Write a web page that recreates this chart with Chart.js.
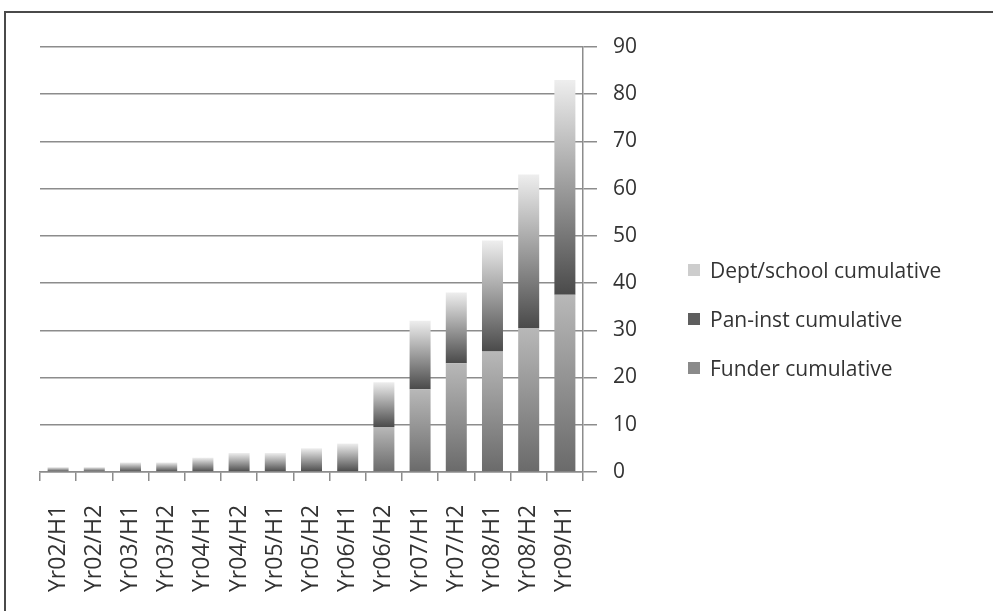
<!DOCTYPE html>
<html>
<head>
<meta charset="utf-8">
<script src="https://cdn.jsdelivr.net/npm/chart.js@4.4.0/dist/chart.umd.min.js"></script>
<style>
  html, body { margin: 0; padding: 0; background: #fff; overflow: hidden; }
  #frame {
    position: absolute; left: 4px; top: 11px; width: 1000px; height: 700px;
    border-left: 2px solid #4a4a4a; border-top: 2px solid #4a4a4a;
  }
  #wrap { position: absolute; left: 0; top: 0; width: 993px; height: 616px; }
  #legend {
    position: absolute; left: 688px; top: 254px; margin: 0; padding: 0; list-style: none;
    font-family: 'Open Sans', 'DejaVu Sans', sans-serif; font-size: 21px; color: #333;
  }
  #legend li { display: flex; align-items: center; height: 32px; margin-bottom: 17px; white-space: nowrap; }
  #legend span.box { display: inline-block; width: 12px; height: 12px; margin-right: 10px; }
</style>
</head>
<body>
<div id="frame"></div>
<div id="wrap"><canvas id="chart"></canvas></div>
<ul id="legend"></ul>
<script>
// ================= DATA =================
const categories = ["Yr02/H1", "Yr02/H2", "Yr03/H1", "Yr03/H2", "Yr04/H1", "Yr04/H2", "Yr05/H1", "Yr05/H2",
    "Yr06/H1", "Yr06/H2", "Yr07/H1", "Yr07/H2", "Yr08/H1", "Yr08/H2", "Yr09/H1"];
const funderValues = [0, 0, 0, 0, 0, 0, 0, 0, 0, 9.5, 17.5, 23, 25.5, 30.5, 37.5];
const panInstValues = [1, 1, 2, 2, 3, 4, 4, 5, 6, 9.5, 14.5, 15, 23.5, 32.5, 45.5];
const deptSchoolValues = [0, 0, 0, 0, 0, 0, 0, 0, 0, 0, 0, 0, 0, 0, 0];
const yTicks = [0, 10, 20, 30, 40, 50, 60, 70, 80, 90];

const stackOrder = [funderValues, panInstValues, deptSchoolValues];
const legendColors = ["#8a8a8a", "#5e5e5e", "#cdcdcd"];

// gradient for one stacked segment, dark at the bottom, light at the top
function segmentFill(dsIndex, bottomColor, topColor) {
    return function (ctx) {
        if (ctx.type !== "data") return legendColors[dsIndex];
        const chart = ctx.chart;
        const y = chart.scales.y;
        if (!y || !chart.chartArea) return bottomColor;
        let base = 0;
        for (let k = 0; k < dsIndex; k++) base += stackOrder[k][ctx.dataIndex];
        const top = base + stackOrder[dsIndex][ctx.dataIndex];
        const yBot = y.getPixelForValue(base);
        const yTop = y.getPixelForValue(top);
        if (!isFinite(yBot) || !isFinite(yTop) || yBot === yTop) return bottomColor;
        const g = chart.ctx.createLinearGradient(0, yBot, 0, yTop);
        g.addColorStop(0, bottomColor);
        g.addColorStop(1, topColor);
        return g;
    };
}

// ================= HTML LEGEND =================
// the canvas legend gets squeezed next to a right-side axis, so build it in the page
const htmlLegend = {
    id: "htmlLegend",
    afterUpdate(chart) {
        const list = document.getElementById("legend");
        list.innerHTML = "";
        const items = chart.options.plugins.legend.labels.generateLabels(chart).reverse();
        items.forEach(item => {
            const li = document.createElement("li");
            const box = document.createElement("span");
            box.className = "box";
            box.style.background = legendColors[item.datasetIndex];
            li.appendChild(box);
            li.appendChild(document.createTextNode(item.text));
            list.appendChild(li);
        });
    }
};

const font = "'Open Sans', 'DejaVu Sans', sans-serif";
const textColor = "#333";
const gridColor = "#8c8c8c";

function drawChart() {
    new Chart(document.getElementById("chart").getContext("2d"), {
        type: "bar",
        data: {
            labels: categories,
            datasets: [
                {
                    label: "Funder cumulative",
                    data: funderValues,
                    backgroundColor: segmentFill(0, "#6a6a6a", "#b8b8b8")
                },
                {
                    label: "Pan-inst cumulative",
                    data: panInstValues,
                    backgroundColor: segmentFill(1, "#4a4a4a", "#eeeeee")
                },
                {
                    label: "Dept/school cumulative",
                    data: deptSchoolValues,
                    backgroundColor: segmentFill(2, "#bdbdbd", "#eeeeee")
                }
            ]
        },
        plugins: [htmlLegend],
        options: {
            responsive: true,
            maintainAspectRatio: false,
            animation: false,
            datasets: {
                bar: { categoryPercentage: 1, barPercentage: 0.58, borderWidth: 0 }
            },
            layout: { padding: { top: 47, left: 40, right: 340, bottom: 0 } },
            plugins: {
                tooltip: { enabled: false },
                legend: { display: false }
            },
            scales: {
                x: {
                    stacked: true,
                    grid: {
                        offset: true,
                        drawOnChartArea: false,
                        drawTicks: true,
                        tickLength: 9,
                        color: gridColor,
                        lineWidth: 1.5
                    },
                    border: { display: true, color: gridColor, width: 1.5 },
                    ticks: {
                        font: { family: font, size: 23 },
                        color: textColor,
                        minRotation: 90,
                        maxRotation: 90,
                        padding: 24,
                        autoSkip: false
                    }
                },
                y: {
                    stacked: true,
                    position: "right",
                    min: 0,
                    max: 90,
                    afterBuildTicks: scale => {
                        scale.ticks = yTicks.map(v => ({ value: v }));
                    },
                    grid: {
                        color: gridColor,
                        lineWidth: 1.5,
                        tickLength: 14
                    },
                    border: { display: true, color: gridColor, width: 1.5 },
                    ticks: {
                        font: { family: font, size: 21 },
                        color: textColor,
                        padding: 16
                    }
                }
            }
        }
    });
}

// make sure the font is measured correctly before Chart.js caches text widths
if (document.fonts && document.fonts.load) {
    document.fonts.load("21px 'Open Sans'").then(drawChart, drawChart);
} else {
    drawChart();
}
</script>
</body>
</html>
